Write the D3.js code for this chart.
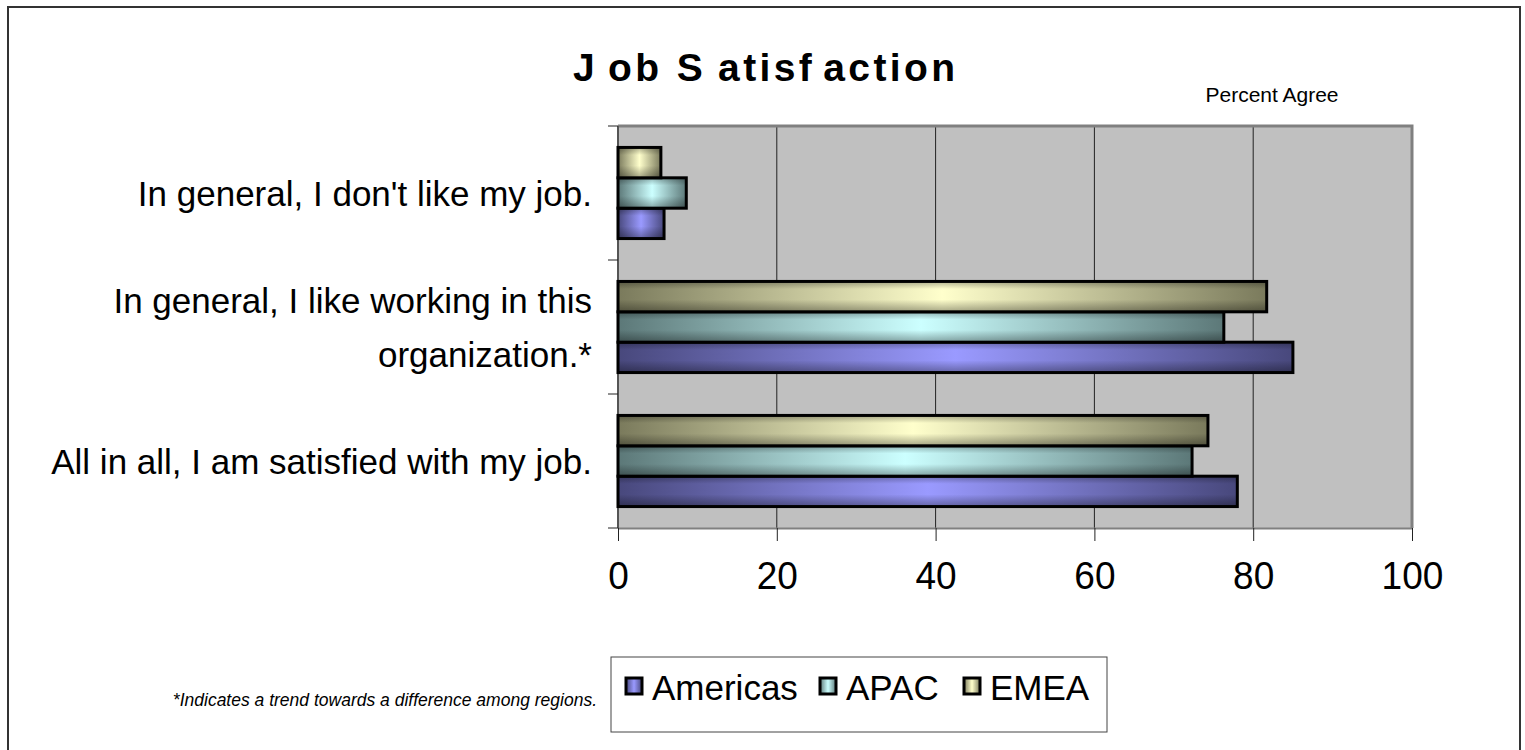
<!DOCTYPE html>
<html>
<head>
<meta charset="utf-8">
<script src="https://cdn.jsdelivr.net/npm/d3@7"></script>
<style>
  body { margin: 0; background: #fff; }
  svg { display: block; font-family: "Liberation Sans", Arial, sans-serif; }
</style>
</head>
<body>
<svg width="1525" height="750"></svg>
<script>
// data
const categories = [
  ["In general, I don't like my job."],
  ["In general, I like working in this", "organization.*"],
  ["All in all, I am satisfied with my job."]
];
const seriesNames = ["Americas", "APAC", "EMEA"];
const americas = [5.8, 85.0, 78.0];
const apac = [8.6, 76.3, 72.3];
const emea = [5.4, 81.7, 74.3];
const xTicks = [0, 20, 40, 60, 80, 100];

const values = { Americas: americas, APAC: apac, EMEA: emea };
const colors = {
  Americas: { dark: '#48487c', light: '#9a9aff' },
  APAC: { dark: '#5c7878', light: '#ccffff' },
  EMEA: { dark: '#7a7a5c', light: '#ffffcc' }
};

const plot = { left: 618, right: 1412, top: 126, bottom: 528 };

const svg = d3.select('svg');
const defs = svg.append('defs');

seriesNames.forEach(s => {
  const g = defs.append('linearGradient').attr('id', 'grad-' + s)
    .attr('x1', 0).attr('x2', 1).attr('y1', 0).attr('y2', 0);
  g.append('stop').attr('offset', '0%').attr('stop-color', colors[s].dark);
  g.append('stop').attr('offset', '50%').attr('stop-color', colors[s].light);
  g.append('stop').attr('offset', '100%').attr('stop-color', colors[s].dark);
});
const shade = defs.append('linearGradient').attr('id', 'shade')
  .attr('x1', 0).attr('x2', 0).attr('y1', 0).attr('y2', 1);
[[0, 0.3], [0.25, 0], [0.6, 0], [1, 0.35]].forEach(([o, a]) => {
  shade.append('stop').attr('offset', o).attr('stop-color', '#000').attr('stop-opacity', a);
});

// outer frame
svg.append('rect')
  .attr('x', 8).attr('y', 7)
  .attr('width', 1512).attr('height', 800)
  .attr('fill', 'none').attr('stroke', '#333').attr('stroke-width', 2);

// title
const title = svg.append('text')
  .attr('x', 764).attr('y', 81)
  .attr('text-anchor', 'middle')
  .attr('font-size', 39).attr('font-weight', 'bold')
  .attr('textLength', 382).attr('lengthAdjust', 'spacing');
title.append('tspan').text('J');
title.append('tspan').attr('dx', 10).text('ob S');
title.append('tspan').attr('dx', 12).text('atisf');
title.append('tspan').attr('dx', 8).text('action');

svg.append('text')
  .attr('x', 1272).attr('y', 102)
  .attr('text-anchor', 'middle')
  .attr('font-size', 21)
  .text('Percent Agree');

const xScale = d3.scaleLinear()
  .domain([0, 100])
  .range([plot.left, plot.right]);

const yScale = d3.scaleBand()
  .domain(d3.range(categories.length))
  .range([plot.top, plot.bottom])
  .paddingInner(0.32)
  .paddingOuter(0.16);

const subScale = d3.scaleBand()
  .domain(["EMEA", "APAC", "Americas"])
  .range([0, yScale.bandwidth()]);

const step = yScale.step();

// plot area
svg.append('rect')
  .attr('x', plot.left).attr('y', plot.top)
  .attr('width', plot.right - plot.left).attr('height', plot.bottom - plot.top)
  .attr('fill', '#c0c0c0');

svg.append('g')
  .selectAll('line')
  .data(xTicks.slice(1, -1))
  .enter().append('line')
  .attr('x1', d => xScale(d)).attr('x2', d => xScale(d))
  .attr('y1', plot.top).attr('y2', plot.bottom)
  .attr('stroke', '#222').attr('stroke-width', 1);

// border top and right
svg.append('path')
  .attr('d', `M${plot.left},${plot.top}H${plot.right}V${plot.bottom}`)
  .attr('fill', 'none').attr('stroke', '#808080').attr('stroke-width', 3);

// x axis
const xAxis = svg.append('g')
  .attr('transform', `translate(0,${plot.bottom})`)
  .call(d3.axisBottom(xScale).tickValues(xTicks).tickSize(13).tickSizeOuter(0).tickPadding(20));
xAxis.select('.domain').attr('stroke', '#808080').attr('stroke-width', 2);
xAxis.selectAll('.tick line').attr('stroke', '#222');
xAxis.selectAll('.tick text')
  .attr('font-family', '"Liberation Sans", Arial, sans-serif')
  .attr('font-size', 39).attr('fill', '#000')
  .attr('transform', 'scale(0.95,1)');

// y axis (category boundaries)
const yEdges = d3.range(categories.length + 1).map(i => plot.top + i * step);
svg.append('line')
  .attr('x1', plot.left).attr('x2', plot.left)
  .attr('y1', plot.top).attr('y2', plot.bottom)
  .attr('stroke', '#555').attr('stroke-width', 2);
svg.append('g')
  .selectAll('line')
  .data(yEdges)
  .enter().append('line')
  .attr('x1', plot.left - 10).attr('x2', plot.left)
  .attr('y1', d => d).attr('y2', d => d)
  .attr('stroke', '#222');

// category labels
const labels = svg.append('g')
  .selectAll('text')
  .data(categories)
  .enter().append('text')
  .attr('text-anchor', 'end')
  .attr('font-size', 35)
  .attr('fill', '#000')
  .attr('transform', (d, i) => {
    const cy = yScale(i) + yScale.bandwidth() / 2;
    const lh = 54;
    const y0 = cy - (d.length - 1) * lh / 2 + 13;
    return `translate(592,${y0})`;
  });
labels.selectAll('tspan')
  .data(d => d)
  .enter().append('tspan')
  .attr('x', 0)
  .attr('dy', (d, i) => i === 0 ? 0 : 54)
  .text(d => d);

// bars
const groups = svg.append('g')
  .selectAll('g')
  .data(categories.map((c, i) => i))
  .enter().append('g')
  .attr('transform', i => `translate(0,${yScale(i)})`);

groups.selectAll('g.bar')
  .data(i => seriesNames.map(s => ({ s, v: values[s][i] })))
  .enter().append('g')
  .attr('class', 'bar')
  .each(function (d) {
    const g = d3.select(this);
    const x = xScale(0);
    const w = xScale(d.v) - xScale(0);
    const y = subScale(d.s);
    const h = subScale.bandwidth();
    g.append('rect')
      .attr('x', x).attr('y', y).attr('width', w).attr('height', h)
      .attr('fill', `url(#grad-${d.s})`);
    g.append('rect')
      .attr('x', x).attr('y', y).attr('width', w).attr('height', h)
      .attr('fill', 'url(#shade)')
      .attr('stroke', '#000').attr('stroke-width', 3);
  });

// footnote
svg.append('text')
  .attr('x', 597).attr('y', 706)
  .attr('text-anchor', 'end')
  .attr('font-size', 17.5).attr('font-style', 'italic')
  .text('*Indicates a trend towards a difference among regions.');

// legend
const legend = svg.append('g');
legend.append('rect')
  .attr('x', 611).attr('y', 657)
  .attr('width', 496).attr('height', 75)
  .attr('fill', '#fff').attr('stroke', '#444').attr('stroke-width', 1);

const legendX = { Americas: 626, APAC: 820, EMEA: 964 };
const li = legend.selectAll('g.item')
  .data(seriesNames)
  .enter().append('g')
  .attr('class', 'item')
  .attr('transform', s => `translate(${legendX[s]},678)`);
li.append('rect')
  .attr('width', 16).attr('height', 16)
  .attr('fill', s => `url(#grad-${s})`)
  .attr('stroke', '#000').attr('stroke-width', 3);
li.append('text')
  .attr('x', 26).attr('y', 22)
  .attr('font-size', 35)
  .text(s => s);
</script>
</body>
</html>
